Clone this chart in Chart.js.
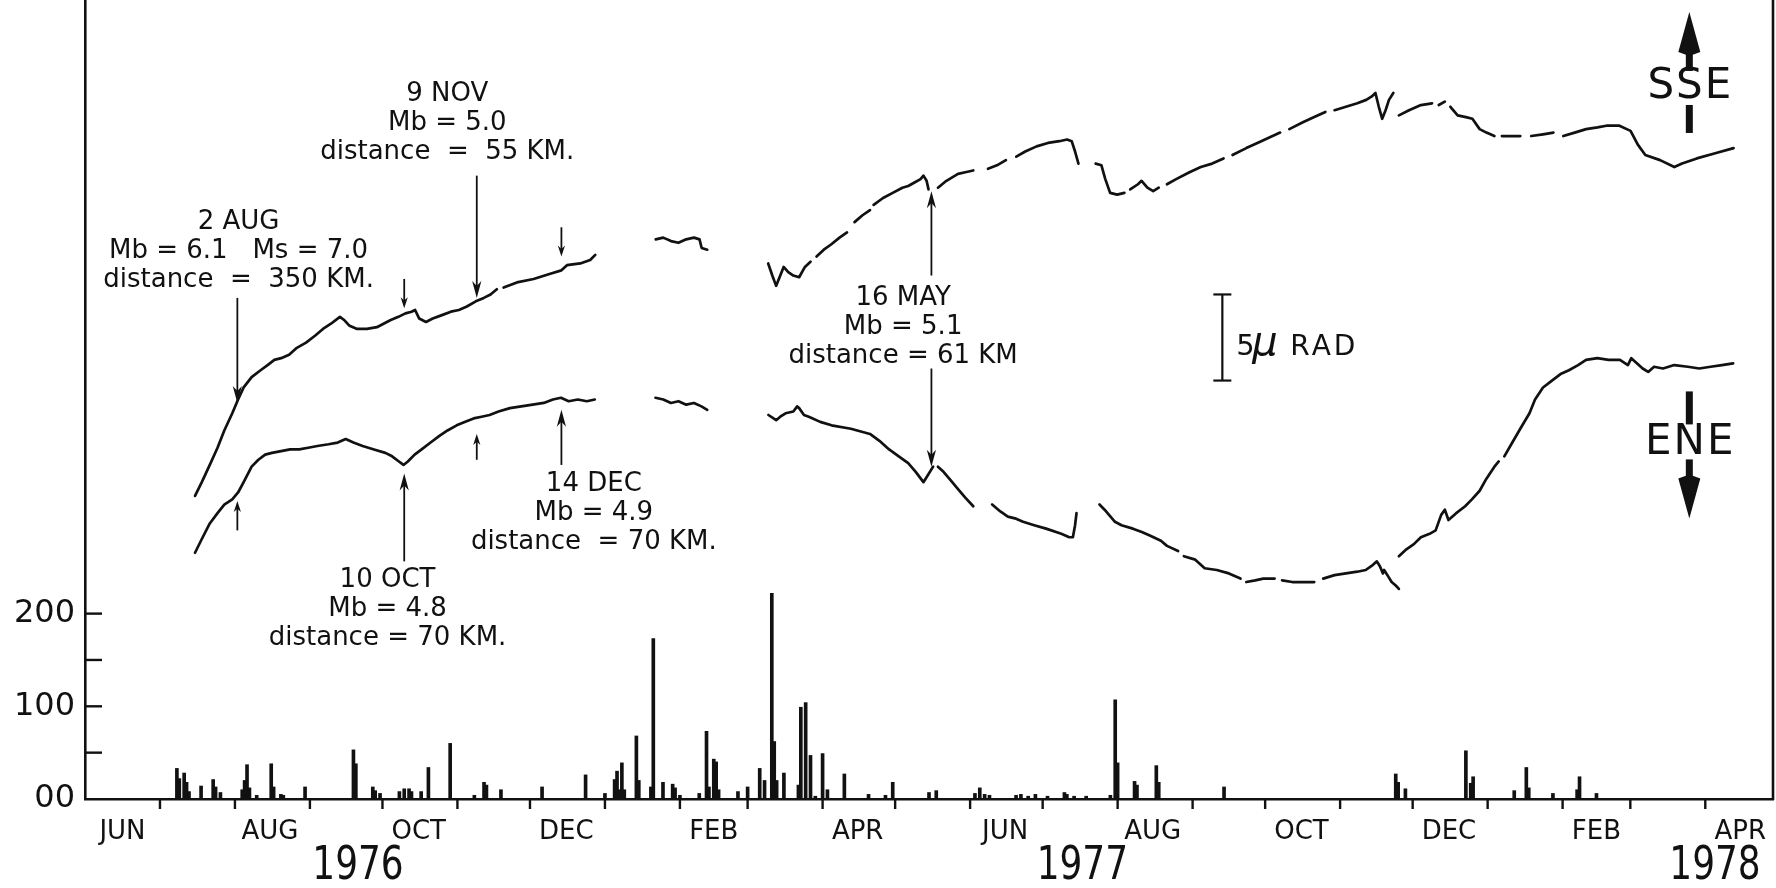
<!DOCTYPE html>
<html>
<head>
<meta charset="utf-8">
<title>Tilt and seismicity, 1976-1978</title>
<script src="https://cdn.jsdelivr.net/npm/chart.js@4.4.1/dist/chart.umd.min.js"></script>
<style>
  html, body { margin: 0; padding: 0; background: #ffffff; }
  #wrap { position: relative; width: 1776px; height: 888px; }
</style>
</head>
<body>
<div id="wrap"><canvas id="chart"></canvas></div>
<script>
// ---------------------------------------------------------------------------
// Time is counted in days from 1 June 1976.
// ---------------------------------------------------------------------------
const monthLabels    = ['JUN', 'AUG', 'OCT', 'DEC', 'FEB', 'APR', 'JUN', 'AUG', 'OCT', 'DEC', 'FEB', 'APR'];
const monthLabelDays = [14.5, 75.5, 137, 198, 259, 318.5, 379.5, 440.5, 502, 563, 624, 683.5];
const monthStartDays = [30, 61, 92, 122, 153, 183, 214, 245, 273, 304, 334, 365, 395, 426, 457, 487, 518, 548, 579, 610, 638, 669];
const yearLabels     = ['1976', '1977', '1978'];
const yearLabelDays  = [111.9, 411.4, 673];

// Daily counts (lower panel)
const countTickValues = [0, 100, 200];
const countTickLabels = ['00', '100', '200'];
const countMinorTicks = [50, 100, 150, 200];
const countDays = [37,38,40,41,42,47,52,53,55,64,65,66,67,70,76,77,80,81,90,110,111,118,119,121,129,131,133,134,138,141,150,160,164,165,171,188,206,214,218,219,220,221,222,227,228,233,234,238,242,243,245,253,256,257,259,260,261,269,273,278,280,283,284,285,288,294,295,297,299,301,304,306,313,323,330,333,348,351,367,369,371,373,384,386,389,392,397,404,405,408,413,423,425,426,433,434,442,443,470,541,542,545,570,572,573,590,595,596,606,616,617,624];
const countValues = [33,22,28,18,8,14,21,13,7,10,20,37,12,4,38,13,5,4,13,53,38,13,9,6,8,11,11,8,8,34,60,4,18,15,10,13,26,6,21,30,10,39,10,68,20,13,173,18,16,12,4,6,73,13,43,40,10,8,13,33,20,222,62,20,28,15,99,104,47,3,49,10,27,5,4,18,7,9,6,12,5,4,4,5,3,5,3,7,5,3,3,4,107,39,19,15,36,18,13,27,18,11,52,17,24,9,34,12,6,10,24,6];

// SSE tilt component (micro-radians, arbitrary offset); one sub-array per recorded stretch
const sseDays = [
  [44.5,47.3,50.6,53.8,56.6,59.9,62.3,64.6,67.9,71.6,74.5,77.3,80.1,83.4,86.6,90.4,94.1,97.4,100.7,104.4,106.3,108.2,111.5,115.6,119.7,125.2,128.6,131.5,134.0,135.5,137.2,140.0,142.8,146.6,150.3,153.6,156.9,160.6,163.9,166.7,169.3],
  [172.1,177.6,184.5,191.4,196.0,198.3,203.8,207.9,210.0],
  [235.0,238.1,241.3,244.4,247.6,250.8,253.1,254.0,256.3],
  [281.5,283.2,284.8,286.5,287.9,289.8,291.9,294.3,296.7,299.0],
  [301.5,304.5,307.5,311.0,314.1],
  [317.2,320.5,323.6],
  [325.1,329.0,333.0,337.0,339.4,342.0,344.5,345.7,347.0,347.8],
  [351.7,355.2,360.0,363.0,366.3],
  [372.4,376.1,379.8],
  [384.1,387.8,392.5,397.2,401.9,405.1,407.0,408.4,409.8],
  [416.9,419.3,420.9,422.9,425.8,428.8],
  [431.2,434.4,435.9,438.3,440.7,443.0],
  [446.4,450.2,455.7,460.4,465.1,469.8],
  [473.5,479.2,483.8,488.5,493.2],
  [497.0,502.6,507.3,511.9],
  [515.7,520.4,525.1,528.8,531.1,532.6,534.0,535.4,536.8,538.2,540.0],
  [542.3,546.5,551.4,556.0],
  [558.8,561.3],
  [563.6,566.6,570.0,572.7,575.7,578.5,581.8],
  [584.9,592.5],
  [597.0,601.9,606.2],
  [610.3,615.0,619.7,624.4,628.1,630.5,633.5,638.1,641.1,644.2,650.3,656.2,659.4,665.5,673.1,680.7]
];
const sseTilt = [
  [17.6,18.4,19.4,20.4,21.4,22.4,23.2,23.9,24.5,24.9,25.2,25.5,25.6,25.8,26.2,26.5,26.9,27.3,27.6,28.0,27.8,27.5,27.3,27.3,27.4,27.8,28.0,28.2,28.3,28.4,27.9,27.7,27.9,28.1,28.3,28.4,28.6,28.9,29.1,29.3,29.6],
  [29.7,30.0,30.2,30.5,30.7,31.0,31.1,31.3,31.6],
  [32.5,32.6,32.4,32.3,32.5,32.6,32.5,32.0,31.9],
  [31.1,30.4,29.8,30.4,30.9,30.6,30.4,30.3,30.9,31.2],
  [31.5,31.9,32.2,32.6,32.9],
  [33.5,33.9,34.2],
  [34.5,34.9,35.2,35.5,35.6,35.8,36.0,36.2,35.9,35.4],
  [35.5,35.9,36.3,36.4,36.5],
  [36.6,36.8,37.1],
  [37.3,37.6,37.9,38.1,38.2,38.3,38.2,37.6,36.9],
  [36.9,36.8,36.0,35.2,35.1,35.2],
  [35.4,35.7,35.9,35.5,35.3,35.5],
  [35.7,36.0,36.4,36.7,36.9,37.2],
  [37.4,37.8,38.1,38.4,38.7],
  [38.9,39.3,39.6,39.9],
  [40.0,40.2,40.4,40.6,40.8,41.0,40.2,39.5,40.0,40.6,41.0],
  [39.7,40.0,40.3,40.4],
  [40.3,40.5],
  [40.2,39.7,39.6,39.5,38.9,38.7,38.5],
  [38.5,38.5],
  [38.5,38.6,38.7],
  [38.5,38.7,38.9,39.0,39.1,39.1,39.1,38.8,38.0,37.4,37.1,36.7,36.9,37.2,37.5,37.8]
];

// ENE tilt component
const eneDays = [
  [44.5,47.3,50.6,53.8,56.6,59.9,62.3,64.6,67.9,70.7,73.5,76.3,80.1,83.8,87.6,91.3,95.1,99.7,103.5,106.8,110.0,113.8,118.5,123.2,126.0,128.8,130.7,132.5,135.3,138.2,141.9,145.7,148.9,152.7,156.0,159.7,163.0,166.3,170.0,174.7,179.4,184.1,188.7,192.5,195.8,199.0,202.8,206.5,209.8],
  [234.9,238.1,241.3,244.4,247.6,250.8,253.9,256.3],
  [281.6,284.8,286.5,288.7,291.9,293.5,294.3,296.3,298.3,303.0,307.7,315.7,323.6,327.5,331.5,335.5,339.4,342.5,345.7,347.5,349.7],
  [351.7,354.0,357.0,360.0,363.0,366.3],
  [374.1,377.5,380.6,383.5,386.9,391.5,396.4,402.7,406.0,407.5,408.4,409.0],
  [418.5,420.6,424.9,427.6,432.3,436.0,439.3,443.9,446.4,451.0],
  [453.4,458.1,462.0,467.0,472.0,476.8],
  [479.2,482.9,486.2,490.9],
  [494.0,498.2,502.6,507.3],
  [511.0,515.7,520.4,525.1,528.6,531.6,533.2,534.5,535.7,536.2,538.0,539.3,541.0,542.3],
  [542.3,545.4,548.5,551.4,555.0,557.5,559.8,561.3,562.8,566.0,569.7,572.5,575.7,578.5,581.8,583.6],
  [585.9,589.2,592.5,596.3,598.6,601.9,605.6,609.4,612.6,616.4,619.7,624.4,629.0,633.7,637.0,638.4,640.7,643.1,645.4,647.8,651.5,656.2,661.8,666.5,671.2,675.9,680.5]
];
const eneTilt = [
  [14.3,15.1,16.0,16.6,17.1,17.4,17.8,18.4,19.3,19.7,20.0,20.1,20.2,20.3,20.3,20.4,20.5,20.6,20.7,20.9,20.7,20.5,20.3,20.1,19.9,19.6,19.4,19.6,20.0,20.3,20.7,21.1,21.4,21.7,21.9,22.1,22.2,22.3,22.5,22.7,22.8,22.9,23.0,23.2,23.3,23.1,23.2,23.1,23.2],
  [23.3,23.2,23.0,23.1,22.9,23.0,22.8,22.6],
  [22.3,22.0,22.2,22.4,22.5,22.8,22.7,22.3,22.2,21.9,21.7,21.5,21.2,20.8,20.3,19.9,19.5,19.0,18.4,18.8,19.3],
  [19.3,19.0,18.5,18.0,17.5,17.0],
  [17.1,16.7,16.4,16.3,16.1,15.9,15.7,15.4,15.2,15.2,15.9,16.6],
  [17.1,16.8,16.1,15.9,15.7,15.5,15.3,15.0,14.7,14.4],
  [14.1,13.9,13.4,13.3,13.1,12.8],
  [12.6,12.7,12.8,12.8],
  [12.7,12.6,12.6,12.6],
  [12.8,13.0,13.1,13.2,13.3,13.6,13.8,13.5,13.1,13.3,12.9,12.6,12.4,12.2],
  [14.1,14.5,14.8,15.2,15.4,15.6,16.5,16.8,16.2,16.6,17.0,17.4,17.9,18.6,19.3,19.6],
  [19.9,20.7,21.5,22.4,23.2,23.9,24.3,24.7,24.9,25.2,25.5,25.6,25.5,25.5,25.2,25.6,25.3,25.0,24.8,25.1,25.0,25.2,25.1,25.0,25.1,25.2,25.3]
];

// Earthquakes marked on the records
const quakeDays  = [62, 131, 161, 196, 349];
const quakeNotes = [
  ['2 AUG',  'Mb = 6.1   Ms = 7.0', 'distance  =  350 KM.'],
  ['10 OCT', 'Mb = 4.8', 'distance = 70 KM.'],
  ['9 NOV',  'Mb = 5.0', 'distance  =  55 KM.'],
  ['14 DEC', 'Mb = 4.9', 'distance  = 70 KM.'],
  ['16 MAY', 'Mb = 5.1', 'distance = 61 KM']
];

// ---------------------------------------------------------------------------
// Annotation layout (data coordinates: day, micro-radian)
// ---------------------------------------------------------------------------
const noteDays     = [62.5, 124.1, 148.8, 209.4, 337.3];
const noteTilt     = [33.5, 12.7, 40.9, 18.3, 29.1];
const sseArrowFrom = [29.1, 30.2, 36.2, 33.2, 30.4];
const sseArrowTo   = [23.0, 28.5, 29.1, 31.5, 35.3];
const eneArrowFrom = [15.6, 13.8, 19.7, 19.4, 25.0];
const eneArrowTo   = [17.3, 18.9, 21.2, 22.6, 19.3];
const scaleBar     = { day: 469.3, from: 24.3, to: 29.3, textTilt: 25.8 };
const compass      = [
  { text: 'SSE', day: 662.4, tilt: 41.35, dir: -1 },
  { text: 'ENE', day: 662.4, tilt: 20.65, dir: 1 }
];

const INK  = '#111111';
const FONT = '"DejaVu Sans", "Liberation Sans", sans-serif';

function joinSegments(daySegs, valueSegs) {
  const pts = [];
  daySegs.forEach((seg, k) => {
    if (k > 0) pts.push({ x: seg[0], y: null });
    seg.forEach((d, i) => pts.push({ x: d, y: valueSegs[k][i] }));
  });
  return pts;
}

function seg(ctx, x1, y1, x2, y2) {
  ctx.beginPath();
  ctx.moveTo(x1, y1);
  ctx.lineTo(x2, y2);
  ctx.stroke();
}

function arrow(ctx, x, yTail, yTip) {
  const dir = Math.sign(yTip - yTail);
  const span = Math.abs(yTip - yTail);
  const len = span < 45 ? 11 : 17;
  const hw = span < 45 ? 3.6 : 4.6;
  ctx.lineWidth = 1.8;
  seg(ctx, x, yTail, x, yTip - dir * len * 0.6);
  ctx.beginPath();
  ctx.moveTo(x, yTip);
  ctx.lineTo(x - hw, yTip - dir * len);
  ctx.lineTo(x, yTip - dir * len * 0.7);
  ctx.lineTo(x + hw, yTip - dir * len);
  ctx.closePath();
  ctx.fill();
}

const overlay = {
  id: 'overlay',
  afterDatasetsDraw(chart) {
    const { ctx, chartArea: a, scales } = chart;
    const X = v => scales.x.getPixelForValue(v);
    const T = v => scales.tilt.getPixelForValue(v);
    const C = v => scales.y.getPixelForValue(v);
    ctx.save();
    ctx.strokeStyle = INK;
    ctx.fillStyle = INK;

    // right-hand frame line
    ctx.lineWidth = 2.6;
    seg(ctx, a.right, a.top, a.right, a.bottom + 1);

    // inward ticks on the count axis
    ctx.lineWidth = 2.4;
    countMinorTicks.forEach(v => seg(ctx, a.left, C(v), a.left + 17, C(v)));

    // month boundaries under the time axis
    monthStartDays.forEach(d => seg(ctx, X(d), a.bottom, X(d), a.bottom + 10));

    // years
    ctx.textAlign = 'center';
    ctx.textBaseline = 'middle';
    ctx.font = `46px ${FONT}`;
    yearLabels.forEach((t, i) => {
      ctx.save();
      ctx.translate(X(yearLabelDays[i]), a.bottom + 68);
      ctx.scale(0.78, 1);
      ctx.fillText(t, 0, 0);
      ctx.restore();
    });

    // earthquake notes
    ctx.font = `26px ${FONT}`;
    quakeNotes.forEach((lines, i) => {
      const x = X(noteDays[i]);
      const y0 = T(noteTilt[i]);
      lines.forEach((s, j) => ctx.fillText(s, x, y0 + j * 29));
    });

    // arrows onto the two records
    quakeDays.forEach((d, i) => {
      const x = X(d);
      arrow(ctx, x, T(sseArrowFrom[i]), T(sseArrowTo[i]));
      arrow(ctx, x, T(eneArrowFrom[i]), T(eneArrowTo[i]));
    });

    // 5 micro-radian scale bar
    const bx = X(scaleBar.day);
    const bTop = T(scaleBar.to), bBot = T(scaleBar.from);
    ctx.lineWidth = 2.2;
    seg(ctx, bx, bTop, bx, bBot);
    seg(ctx, bx - 9, bTop, bx + 9, bTop);
    seg(ctx, bx - 9, bBot, bx + 9, bBot);
    const by = T(scaleBar.textTilt);
    ctx.textAlign = 'left';
    ctx.textBaseline = 'alphabetic';
    ctx.font = `29px ${FONT}`;
    ctx.fillText('5', bx + 14, by);
    ctx.font = `italic 40px ${FONT}`;
    ctx.fillText('\u03BC', bx + 30, by);
    ctx.font = `28px ${FONT}`;
    ctx.letterSpacing = '3px';
    ctx.fillText('RAD', bx + 68, by);
    ctx.letterSpacing = '0px';

    // compass labels with heavy arrows
    compass.forEach(c => {
      const cx = X(c.day), cy = T(c.tilt);
      ctx.lineWidth = 7;
      if (c.dir < 0) {
        seg(ctx, cx, cy - 36, cx, cy - 16);
        seg(ctx, cx, cy + 18, cx, cy + 46);
      } else {
        seg(ctx, cx, cy - 52, cx, cy - 19);
        seg(ctx, cx, cy + 16, cx, cy + 38);
      }
      const tip = cy + c.dir * 75, base = cy + c.dir * 35;
      ctx.beginPath();
      ctx.moveTo(cx, tip);
      ctx.lineTo(cx - 11, base);
      ctx.lineTo(cx, base - c.dir * 4);
      ctx.lineTo(cx + 11, base);
      ctx.closePath();
      ctx.fill();
      ctx.font = `42px ${FONT}`;
      ctx.textAlign = 'center';
      ctx.textBaseline = 'middle';
      ctx.letterSpacing = '2px';
      ctx.fillText(c.text, cx + 1, cy);
      ctx.letterSpacing = '0px';
    });

    ctx.restore();
  }
};

new Chart(document.getElementById('chart'), {
  type: 'bar',
  data: {
    datasets: [
      {
        label: 'daily count',
        data: countDays.map((d, i) => ({ x: d, y: countValues[i] })),
        yAxisID: 'y',
        backgroundColor: INK,
        borderWidth: 0,
        barThickness: 3,
        order: 2
      },
      {
        type: 'line',
        label: 'SSE',
        data: joinSegments(sseDays, sseTilt),
        yAxisID: 'tilt',
        borderColor: INK,
        borderWidth: 2.7,
        pointRadius: 0,
        tension: 0,
        spanGaps: false,
        fill: false,
        borderJoinStyle: 'round',
        borderCapStyle: 'round',
        order: 1
      },
      {
        type: 'line',
        label: 'ENE',
        data: joinSegments(eneDays, eneTilt),
        yAxisID: 'tilt',
        borderColor: INK,
        borderWidth: 2.7,
        pointRadius: 0,
        tension: 0,
        spanGaps: false,
        fill: false,
        borderJoinStyle: 'round',
        borderCapStyle: 'round',
        order: 1
      }
    ]
  },
  options: {
    responsive: true,
    maintainAspectRatio: false,
    animation: false,
    devicePixelRatio: 1,
    layout: { padding: { left: 0, right: 3, top: 0, bottom: 0 } },
    plugins: { legend: { display: false }, tooltip: { enabled: false } },
    scales: {
      x: {
        type: 'linear',
        min: -1,
        max: 697,
        offset: false,
        grid: { drawOnChartArea: false, drawTicks: false },
        border: { display: true, color: INK, width: 2.6 },
        afterBuildTicks: s => { s.ticks = monthLabelDays.map(v => ({ value: v })); },
        afterFit: s => { s.height = 89; s.paddingLeft = 0; s.paddingRight = 0; },
        ticks: {
          autoSkip: false,
          maxRotation: 0,
          minRotation: 0,
          padding: 18,
          color: INK,
          font: { family: FONT, size: 26 },
          callback: (v, i) => monthLabels[i]
        }
      },
      y: {
        type: 'linear',
        position: 'left',
        min: 0,
        max: 862,
        grid: { drawOnChartArea: false, drawTicks: false },
        border: { display: true, color: INK, width: 2.6 },
        afterBuildTicks: s => { s.ticks = countTickValues.map(v => ({ value: v })); },
        afterFit: s => { s.width = 85; s.paddingTop = 0; s.paddingBottom = 0; },
        ticks: {
          padding: 10,
          color: INK,
          font: { family: FONT, size: 32 },
          callback: (v, i) => countTickLabels[i]
        }
      },
      tilt: {
        type: 'linear',
        display: false,
        min: 0,
        max: 46.4
      }
    }
  },
  plugins: [overlay]
});
</script>
</body>
</html>
